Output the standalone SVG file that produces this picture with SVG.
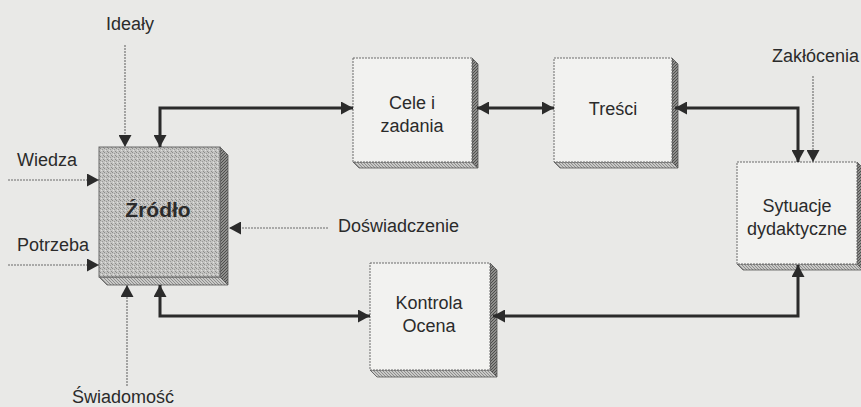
<svg xmlns="http://www.w3.org/2000/svg" width="861" height="407" viewBox="0 0 861 407">
  <defs>
    <!-- stippled grey fill of the central block -->
    <pattern id="stipple" width="4" height="4" patternUnits="userSpaceOnUse">
      <rect width="4" height="4" fill="#c3c3c1"/>
      <rect x="0" y="0" width="1" height="1" fill="#8c8c8a"/>
      <rect x="2" y="1" width="1" height="1" fill="#9a9a98"/>
      <rect x="1" y="2" width="1" height="1" fill="#e0e0de"/>
      <rect x="3" y="3" width="1" height="1" fill="#8c8c8a"/>
    </pattern>
    <!-- hatched side faces of the 3D boxes -->
    <pattern id="hatchDark" width="3" height="3" patternUnits="userSpaceOnUse">
      <rect width="3" height="3" fill="#8e8e8c"/>
      <path d="M0,3 L3,0" stroke="#4e4e4c" stroke-width="1"/>
    </pattern>
    <pattern id="hatchLight" width="3" height="3" patternUnits="userSpaceOnUse">
      <rect width="3" height="3" fill="#c9c9c7"/>
      <path d="M0,0 L3,3" stroke="#7e7e7c" stroke-width="0.8"/>
    </pattern>
    <marker id="arrow" markerUnits="userSpaceOnUse" markerWidth="13" markerHeight="13" refX="12" refY="6.5" orient="auto-start-reverse">
      <path d="M0,0 L12,6.5 L0,13 Z" fill="#2b2b2b"/>
    </marker>
  </defs>
  <style>
    .bg { fill: #e9e9e7; }
    .face { fill: #f2f2f0; stroke: #6a6a6a; stroke-width: 1; stroke-dasharray: 2 1; }
    .core { fill: url(#stipple); stroke: #6a6a6a; stroke-width: 1; }
    .side { fill: url(#hatchDark); stroke: #555; stroke-width: 0.8; }
    .bottom { fill: url(#hatchLight); stroke: #555; stroke-width: 0.8; }
    .thick { fill: none; stroke: #2b2b2b; stroke-width: 3; marker-start: url(#arrow); marker-end: url(#arrow); }
    .thin { fill: none; stroke: #6a6a6a; stroke-width: 1.1; stroke-dasharray: 2 1; marker-end: url(#arrow); }
    text { font-family: "Liberation Sans", Arial, sans-serif; font-size: 18px; fill: #2b2b2b; }
    .mid { text-anchor: middle; }
    .title { font-weight: bold; font-size: 21px; }
  </style>

  <rect class="bg" width="861" height="407"/>

  <!-- Źródło (source) -->
  <g id="zrodlo">
    <polygon class="side" points="220,147 228,155 228,285 220,277"/>
    <polygon class="bottom" points="99,277 220,277 228,285 107,285"/>
    <rect class="core" x="99" y="147" width="121" height="130"/>
    <text class="mid title" x="158" y="217">Źródło</text>
  </g>

  <!-- Cele i zadania -->
  <g id="cele">
    <polygon class="side" points="472,58 478,64 478,168 472,162"/>
    <polygon class="bottom" points="353,162 472,162 478,168 359,168"/>
    <rect class="face" x="353" y="58" width="119" height="104"/>
    <text class="mid" x="412" y="109">Cele i</text>
    <text class="mid" x="412" y="132">zadania</text>
  </g>

  <!-- Treści -->
  <g id="tresci">
    <polygon class="side" points="672,58 678,64 678,168 672,162"/>
    <polygon class="bottom" points="554,162 672,162 678,168 560,168"/>
    <rect class="face" x="554" y="58" width="118" height="104"/>
    <text class="mid" x="613" y="115">Treści</text>
  </g>

  <!-- Sytuacje dydaktyczne -->
  <g id="sytuacje">
    <polygon class="side" points="857,162 863,168 863,270 857,264"/>
    <polygon class="bottom" points="737,264 857,264 863,270 743,270"/>
    <rect class="face" x="737" y="162" width="120" height="102"/>
    <text class="mid" x="797" y="212">Sytuacje</text>
    <text class="mid" x="797" y="235">dydaktyczne</text>
  </g>

  <!-- Kontrola / Ocena -->
  <g id="kontrola">
    <polygon class="side" points="490,263 497,270 497,377 490,370"/>
    <polygon class="bottom" points="370,370 490,370 497,377 377,377"/>
    <rect class="face" x="370" y="263" width="120" height="107"/>
    <text class="mid" x="429" y="309">Kontrola</text>
    <text class="mid" x="429" y="332">Ocena</text>
  </g>

  <!-- input labels -->
  <g id="labels">
    <text class="mid" x="130" y="30">Ideały</text>
    <text x="17" y="166">Wiedza</text>
    <text x="17" y="251">Potrzeba</text>
    <text x="338" y="232">Doświadczenie</text>
    <text x="72" y="403">Świadomość</text>
    <text x="772" y="62">Zakłócenia</text>
  </g>

  <!-- connectors -->
  <g id="connectors">
    <path class="thin" d="M125,45 V147"/>
    <path class="thin" d="M8,180 H99"/>
    <path class="thin" d="M8,265 H99"/>
    <path class="thin" d="M328,228 H229"/>
    <path class="thin" d="M127,386 V285"/>
    <path class="thin" d="M813,76 V162"/>
    <path class="thick" d="M160,147 V108 H353"/>
    <path class="thick" d="M477,108 H554"/>
    <path class="thick" d="M675,108 H798 V162"/>
    <path class="thick" d="M160,285 V316 H370"/>
    <path class="thick" d="M798,265 V316 H493"/>
  </g>
</svg>
